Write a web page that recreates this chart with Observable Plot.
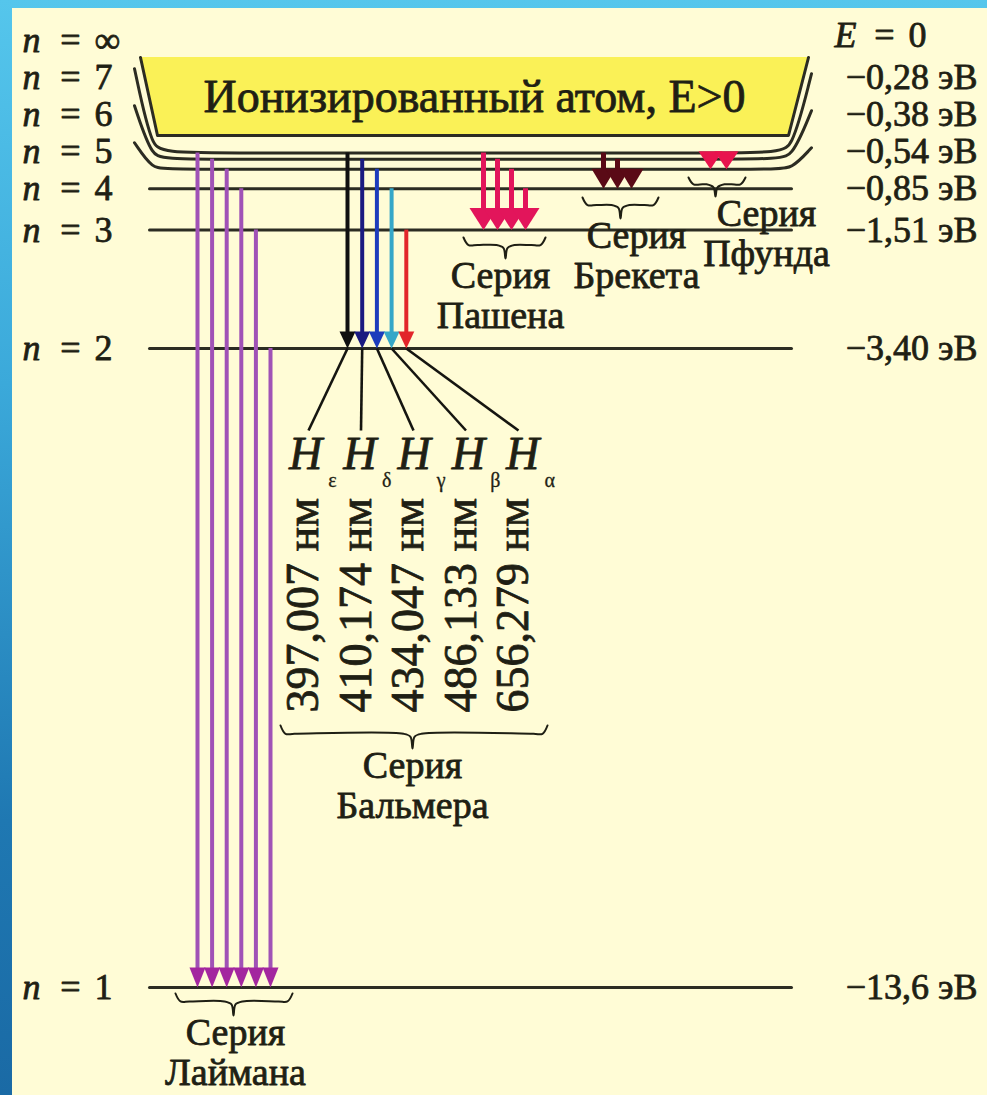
<!DOCTYPE html>
<html>
<head>
<meta charset="utf-8">
<script src="https://cdn.jsdelivr.net/npm/d3@7"></script>
<script src="https://cdn.jsdelivr.net/npm/@observablehq/plot@0.6"></script>
<style>
  html, body { margin: 0; padding: 0; }
  body { width: 987px; height: 1095px; overflow: hidden;
         background: linear-gradient(to bottom, #55c6ec 0%, #3ba9da 35%, #1f78b2 75%, #1a6aa5 100%); }
  #chart { position: absolute; left: 12px; top: 8px; width: 975px; height: 1087px; background: #fffcd6; }
  #chart text { font-family: "Liberation Serif", "DejaVu Serif", serif; }
  #chart g[aria-label="energy-labels"] text { letter-spacing: 1.5px; }
</style>
</head>
<body>
<div id="chart"></div>
<script>
// ---------------- DATA ----------------
const levelN        = [1, 2, 3, 4, 5, 6, 7];
const levelNLabels  = ["1", "2", "3", "4", "5", "6", "7"];
const levelEnergy   = [-13.6, -3.40, -1.51, -0.85, -0.54, -0.38, -0.28];   // eV
const levelELabels  = ["−13,6 эВ", "−3,40 эВ", "−1,51 эВ", "−0,85 эВ", "−0,54 эВ", "−0,38 эВ", "−0,28 эВ"];
const infinityLabel = "∞";
const zeroLabel     = "0";
const ionizedLabel  = "Ионизированный атом, E>0";
const seriesWord    = "Серия";
const seriesNames   = ["Лаймана", "Бальмера", "Пашена", "Брекета", "Пфунда"];
const seriesLowerN  = [1, 2, 3, 4, 5];
const seriesUpperN  = [[7, 6, 5, 4, 3, 2], [7, 6, 5, 4, 3], [7, 6, 5, 4], [7, 6, 5], [7, 6]];
const balmerSymbols = ["ε", "δ", "γ", "β", "α"];
const balmerWavelengths = ["397,007 нм", "410,174 нм", "434,047 нм", "486,133 нм", "656,279 нм"];

// ---------------- LAYOUT / STYLE ----------------
const OX = 12, OY = 8, W = 975, H = 1087;      // svg offset inside the page frame
const Y_GROUND = 987, Y_ZERO = 135;             // page y of ground level and of E = 0
const eMin = d3.min(levelEnergy);
const yRange = [Y_GROUND - OY, Y_ZERO - OY];
const yS = d3.scaleLinear().domain([eMin, 0]).range(yRange);   // mirror of Plot's y scale
const eAt = py => yS.invert(py - OY);           // page y -> energy (for annotation layout)
const pyOf = e => yS(e) + OY;                   // energy -> page y
const pxPerEV = (Y_GROUND - Y_ZERO) / (0 - eMin);
const energyOf = n => levelEnergy[levelN.indexOf(n)];
const SLOT = 37;                                 // label stacking step above n = 4
const slotY = k => pyOf(energyOf(4)) - k * SLOT;

const INK = "#1f1f14";
const LEVEL = "#2c2c22";
const FONT = '"Liberation Serif", "DejaVu Serif", serif';
const LS = 36;                                   // level label font size
const SS = 38;                                   // series label font size
const balmerColors = ["#101010", "#1a1a80", "#1d3cbc", "#35a7c8", "#e2262a"];
const seriesStyle = [
  {x0: 197, dx: 14.6, shaft: "#a052b6", head: "#a3269f", hw: 8,  hh: 20, sw: 4},
  {x0: 347, dx: 14.7, shaft: null,      head: null,      hw: 8,  hh: 17, sw: 4},
  {x0: 483, dx: 14.0, shaft: "#e2155b", head: "#e2155b", hw: 14, hh: 22, sw: 5},
  {x0: 603, dx: 14.0, shaft: "#5a0a16", head: "#5a0a16", hw: 12, hh: 20, sw: 5},
  {x0: 710, dx: 16.0, shaft: "#e8144e", head: "#e8144e", hw: 12, hh: 18, sw: 5}
];
const braceStyle = [
  {xL: 175, xR: 292, xT: 233, yT: 993, h: 22, lx: 235},
  {xL: 280, xR: 547, xT: 412, yT: 725, h: 23, lx: 412},
  {xL: 463, xR: 545, xT: 505, yT: 237, h: 21, lx: 500},
  {xL: 582, xR: 658, xT: 620, yT: 197, h: 21, lx: 636},
  {xL: 688, xR: 745, xT: 715, yT: 177, h: 19, lx: 766}
];

// ---------------- DERIVED TABLES ----------------
const arrows = seriesUpperN.flatMap((ups, s) => ups.map((u, i) => {
  const st = seriesStyle[s];
  const lowE = energyOf(seriesLowerN[s]);
  return {
    s, i,
    x: st.x0 + i * st.dx,
    yFrom: energyOf(u),
    yTo: lowE,
    yShaftEnd: lowE + (st.hh * 0.5) / pxPerEV,
    shaft: s === 1 ? balmerColors[i] : st.shaft,
    head: s === 1 ? balmerColors[i] : st.head
  };
}));

const headSymbol = (hw, hh) => ({
  draw(ctx) { ctx.moveTo(0, 0); ctx.lineTo(-hw, -hh); ctx.lineTo(hw, -hh); ctx.closePath(); }
});

// energy level lines with connectors to stacked labels
const levelPaths = [];
levelN.forEach((n, i) => {
  const E = levelEnergy[i];
  let pts;
  if (n <= 4) pts = [[149, E], [791, E]];
  else {
    const k = n - 4;
    pts = [[134, eAt(slotY(k) - 9)], [152, E], [168, E], [774, E], [791, E], [811, eAt(slotY(k) - 4)]];
  }
  pts.forEach(([x, y]) => levelPaths.push({n, x, y}));
});

const boxTopE = eAt(57);
const boxArea = [{y: 0, x1: 157, x2: 788}, {y: boxTopE, x1: 140, x2: 808}];
const boxEdge = [[140, boxTopE], [157, 0], [788, 0], [808, boxTopE]].map(([x, y]) => ({x, y}));

// braces
const bracePts = [];
braceStyle.forEach((b, s) => {
  const m = b.h * 0.36;
  const p = [[b.xL, b.yT], [b.xL + 5, b.yT + m], [b.xL + 14, b.yT + m], [b.xT - 9, b.yT + m],
             [b.xT - 2, b.yT + m + 3], [b.xT, b.yT + b.h], [b.xT + 2, b.yT + m + 3], [b.xT + 9, b.yT + m],
             [b.xR - 14, b.yT + m], [b.xR - 5, b.yT + m], [b.xR, b.yT]];
  p.forEach(([x, y]) => bracePts.push({s, x, y: eAt(y)}));
});
const seriesLabels = braceStyle.flatMap((b, s) => [
  {t: seriesWord, x: b.lx, y: eAt(b.yT + b.h + 17)},
  {t: seriesNames[s], x: b.lx, y: eAt(b.yT + b.h + 57)}
]);

// level labels
const leftRows = levelN.map((n, i) => ({v: levelNLabels[i], y: n >= 5 ? eAt(slotY(n - 4)) : levelEnergy[i]}))
  .concat([{v: infinityLabel, y: eAt(slotY(4))}]);
const rightRows = levelN.map((n, i) => ({v: levelELabels[i], y: n >= 5 ? eAt(slotY(n - 4)) : levelEnergy[i]}));
const zeroRow = [{y: eAt(slotY(4) - 5)}];

// Balmer annotation
const balmer = arrows.filter(d => d.s === 1);
const fan = balmer.map((d, i) => ({x1: d.x, y1: d.yTo, x2: 308 + i * 52.5, y2: eAt(430)}));
const hLabels = balmerSymbols.map((g, i) => ({g, x: 305 + i * 54.3}));
const wlLabels = balmerWavelengths.map((w, i) => ({w, x: 303 + i * 52.5}));

// ---------------- MARKS ----------------
const txt = (o) => Object.assign({fontFamily: FONT, fill: INK, stroke: INK, strokeWidth: 0.8}, o);
const marks = [
  Plot.areaX(boxArea, {y: "y", x1: "x1", x2: "x2", fill: "#faf157"}),
  Plot.line(levelPaths, {x: "x", y: "y", z: "n", curve: "basis", stroke: LEVEL, strokeWidth: 3}),
  Plot.line(boxEdge, {x: "x", y: "y", stroke: LEVEL, strokeWidth: 3}),
  Plot.link(fan, {x1: "x1", y1: "y1", x2: "x2", y2: "y2", stroke: "#151510", strokeWidth: 2.6})
];
seriesStyle.forEach((st, s) => {
  const data = arrows.filter(d => d.s === s);
  marks.push(Plot.ruleX(data, {x: "x", y1: "yFrom", y2: "yShaftEnd", stroke: "shaft", strokeWidth: st.sw}));
  marks.push(Plot.dot(data, {x: "x", y: "yTo", symbol: headSymbol(st.hw, st.hh), fill: "head", stroke: "none"}));
});
marks.push(
  Plot.line(bracePts, {x: "x", y: "y", z: "s", curve: "catmull-rom", stroke: INK, strokeWidth: 2}),
  Plot.text(seriesLabels, txt({x: "x", y: "y", text: "t", fontSize: SS})),
  // left labels: italic n, "=", value
  Plot.text(leftRows, txt({x: 22, y: "y", text: () => "n", fontSize: LS, fontStyle: "italic", textAnchor: "start"})),
  Plot.text(leftRows, txt({x: 70, y: "y", text: () => "=", fontSize: LS})),
  Plot.text(leftRows, txt({x: 94, y: "y", text: "v", fontSize: LS, textAnchor: "start"})),
  // right labels
  Plot.text(rightRows, txt({x: 977, y: "y", text: "v", fontSize: LS, textAnchor: "end", ariaLabel: "energy-labels"})),
  Plot.text(zeroRow, txt({x: 834, y: "y", text: () => "E", fontSize: LS, fontStyle: "italic", textAnchor: "start"})),
  Plot.text(zeroRow, txt({x: 884, y: "y", text: () => "=", fontSize: LS})),
  Plot.text(zeroRow, txt({x: 908, y: "y", text: () => zeroLabel, fontSize: LS, textAnchor: "start"})),
  // title in the box
  Plot.text([ionizedLabel], txt({x: 474, y: eAt(97), text: d => d, fontSize: 46, ariaLabel: "ionized-title"})),
  // Balmer labels
  Plot.text(hLabels, txt({x: "x", y: eAt(454), text: () => "H", fontSize: 46, fontStyle: "italic"})),
  Plot.text(hLabels, txt({x: d => d.x + 27, y: eAt(480), text: "g", fontSize: 20, strokeWidth: 0.3})),
  Plot.text(wlLabels, txt({x: "x", y: eAt(712), text: "w", fontSize: 46, rotate: -90, textAnchor: "start"}))
);

const chart = Plot.plot({
  width: W, height: H,
  marginTop: 0, marginRight: 0, marginBottom: 0, marginLeft: 0,
  x: {type: "linear", domain: [OX, OX + W], range: [0, W], axis: null},
  y: {type: "linear", domain: [eMin, 0], range: yRange, axis: null},
  style: {background: "#fffcd6", fontFamily: FONT, overflow: "visible"},
  marks
});

// italic E inside the box title (kept as real text)
d3.select(chart).selectAll('g[aria-label="ionized-title"] text').each(function () {
  const t = this.textContent;
  const m = t.match(/^(.*)(E)(>0)$/);
  if (!m) return;
  const el = d3.select(this);
  el.text(null);
  el.append("tspan").text(m[1]);
  el.append("tspan").attr("font-style", "italic").text(m[2]);
  el.append("tspan").text(m[3]);
});

document.getElementById("chart").appendChild(chart);
</script>
</body>
</html>
